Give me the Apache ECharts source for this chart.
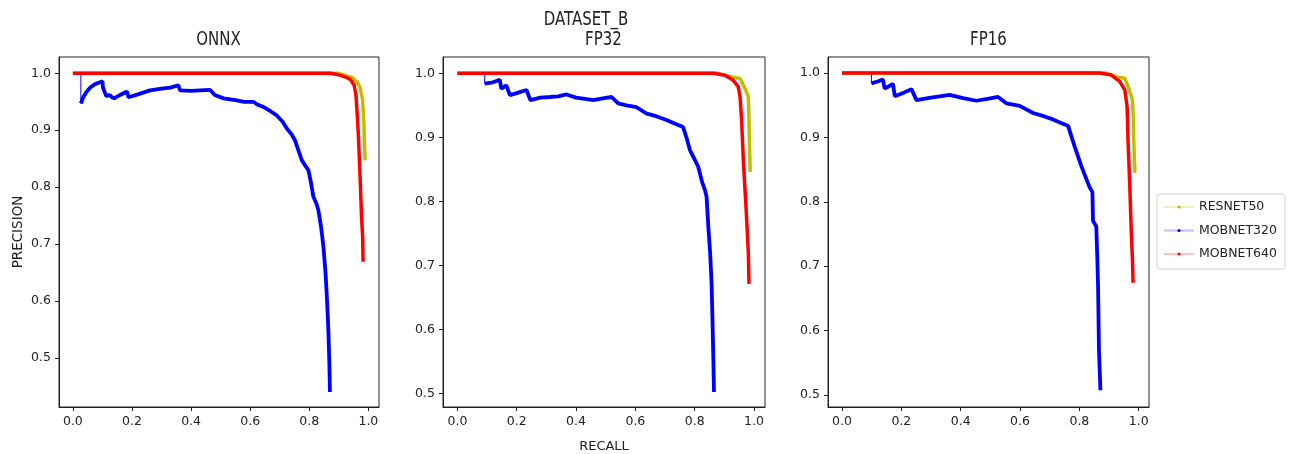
<!DOCTYPE html>
<html>
<head>
<meta charset="utf-8">
<script src="https://cdn.jsdelivr.net/npm/echarts@6/dist/echarts.min.js"></script>
<style>
  html, body { margin: 0; padding: 0; background: #fff; }
  #chart-container { width: 1290px; height: 454px; }
</style>
</head>
<body>
<div id="chart-container"></div>
<script>
// tick labels
const xTicks = [0, 0.2, 0.4, 0.6, 0.8, 1.0];
const yTicks = [0.5, 0.6, 0.7, 0.8, 0.9, 1.0];

// ONNX (recall, precision)
const onnxResnet50 = [[0,1],[0.90,1],[0.944,0.993],[0.962,0.985],[0.972,0.975],[0.980,0.955],[0.984,0.923],[0.986,0.89],[0.989,0.847]];
const onnxMob320Lead = [[0,1],[0.027,1],[0.027,0.947]];
const onnxMob320 = [[0.027,0.947],[0.035,0.958],[0.047,0.968],[0.059,0.975],[0.075,0.981],[0.09,0.984],[0.10,0.986],[0.102,0.975],[0.106,0.972],[0.113,0.960],[0.125,0.962],[0.132,0.958],[0.14,0.956],[0.16,0.962],[0.183,0.968],[0.188,0.958],[0.22,0.963],[0.261,0.970],[0.30,0.973],[0.33,0.975],[0.357,0.979],[0.363,0.970],[0.40,0.969],[0.43,0.970],[0.464,0.971],[0.48,0.962],[0.51,0.956],[0.55,0.953],[0.58,0.950],[0.611,0.950],[0.625,0.945],[0.645,0.941],[0.67,0.933],[0.69,0.926],[0.71,0.915],[0.724,0.903],[0.74,0.893],[0.752,0.882],[0.765,0.862],[0.775,0.847],[0.79,0.835],[0.797,0.830],[0.805,0.81],[0.814,0.783],[0.825,0.770],[0.831,0.759],[0.84,0.73],[0.848,0.695],[0.855,0.65],[0.859,0.613],[0.863,0.57],[0.865,0.543],[0.868,0.49],[0.870,0.44]];
const onnxMob640 = [[0,1],[0.87,1],[0.904,0.997],[0.925,0.993],[0.940,0.989],[0.952,0.979],[0.958,0.962],[0.962,0.93],[0.966,0.894],[0.972,0.818],[0.977,0.747],[0.981,0.71],[0.982,0.669]];

// FP32
const fp32Resnet50 = [[0,1],[0.88,1],[0.919,0.995],[0.953,0.992],[0.97,0.976],[0.981,0.963],[0.983,0.93],[0.984,0.906],[0.987,0.846]];
const fp32Mob320Lead = [[0,1],[0.092,1],[0.092,0.984]];
const fp32Mob320 = [[0.092,0.984],[0.12,0.986],[0.143,0.990],[0.148,0.976],[0.165,0.981],[0.177,0.966],[0.20,0.969],[0.233,0.974],[0.246,0.958],[0.28,0.962],[0.311,0.963],[0.34,0.964],[0.368,0.967],[0.40,0.962],[0.43,0.960],[0.458,0.958],[0.49,0.961],[0.52,0.963],[0.542,0.953],[0.57,0.950],[0.604,0.947],[0.638,0.937],[0.67,0.933],[0.705,0.927],[0.73,0.922],[0.761,0.916],[0.772,0.90],[0.784,0.88],[0.80,0.865],[0.812,0.854],[0.825,0.83],[0.835,0.817],[0.84,0.807],[0.846,0.76],[0.852,0.72],[0.857,0.671],[0.861,0.593],[0.863,0.55],[0.865,0.502]];
const fp32Mob640 = [[0,1],[0.863,1],[0.902,0.997],[0.93,0.989],[0.947,0.979],[0.953,0.963],[0.958,0.927],[0.964,0.864],[0.973,0.791],[0.981,0.718],[0.983,0.671]];

// FP16
const fp16Resnet50 = [[0,1],[0.89,1],[0.925,0.994],[0.953,0.992],[0.967,0.976],[0.979,0.958],[0.982,0.93],[0.983,0.901],[0.987,0.845]];
const fp16Mob320Lead = [[0,1],[0.099,1],[0.099,0.984]];
const fp16Mob320 = [[0.099,0.984],[0.12,0.987],[0.138,0.990],[0.144,0.976],[0.172,0.983],[0.178,0.964],[0.21,0.970],[0.234,0.975],[0.251,0.958],[0.30,0.962],[0.363,0.966],[0.408,0.961],[0.453,0.957],[0.49,0.960],[0.526,0.963],[0.554,0.953],[0.599,0.949],[0.644,0.938],[0.68,0.933],[0.711,0.928],[0.74,0.922],[0.762,0.918],[0.784,0.886],[0.807,0.855],[0.835,0.822],[0.844,0.815],[0.846,0.77],[0.857,0.762],[0.86,0.72],[0.863,0.669],[0.866,0.571],[0.871,0.507]];
const fp16Mob640 = [[0,1],[0.868,1],[0.908,0.997],[0.936,0.987],[0.953,0.974],[0.961,0.948],[0.964,0.896],[0.970,0.824],[0.975,0.752],[0.979,0.71],[0.981,0.674]];

const panelTitles = ['ONNX', 'FP32', 'FP16'];
const seriesNames = ['RESNET50', 'MOBNET320', 'MOBNET640'];
const colors = ['#bfbf00', '#0000ff', '#ff0000'];

const FONT = 'DejaVu Sans';
const chart = echarts.init(document.getElementById('chart-container'));

// grid boxes + axis ranges (matplotlib style margins)
const grids = [
  { left: 59, top: 57, width: 320, height: 350 },
  { left: 443, top: 57, width: 322, height: 350 },
  { left: 828, top: 57, width: 321, height: 350 }
];
const xRanges = [[-0.047, 1.036], [-0.0486, 1.037], [-0.0472, 1.0347]];
const yRanges = [[0.4136, 1.0287], [0.4786, 1.0255], [0.481, 1.025]];

function xAxisFor(i) {
  return {
    type: 'value', gridIndex: i, min: xRanges[i][0], max: xRanges[i][1],
    axisLine: { show: true, onZero: false, lineStyle: { color: '#222', width: 1 } },
    axisTick: { show: true, inside: false, length: 4, lineStyle: { color: '#222' }, customValues: xTicks },
    axisLabel: { customValues: xTicks, margin: 8, color: '#222', fontFamily: FONT, fontSize: 12.5,
      formatter: v => v.toFixed(1) },
    splitLine: { show: false },
    name: i === 1 ? 'RECALL' : '', nameLocation: 'middle', nameGap: 33,
    nameTextStyle: { fontFamily: FONT, fontSize: 13, color: '#222' }
  };
}
function yAxisFor(i) {
  return {
    type: 'value', gridIndex: i, min: yRanges[i][0], max: yRanges[i][1],
    axisLine: { show: true, onZero: false, lineStyle: { color: '#222', width: 1 } },
    axisTick: { show: true, inside: false, length: 4, lineStyle: { color: '#222' }, customValues: yTicks },
    axisLabel: { customValues: yTicks, margin: 8, color: '#222', fontFamily: FONT, fontSize: 12.5,
      formatter: v => v.toFixed(1) },
    splitLine: { show: false },
    name: i === 0 ? 'PRECISION' : '', nameLocation: 'middle', nameGap: 34,
    nameTextStyle: { fontFamily: FONT, fontSize: 13.5, color: '#222' }
  };
}

const panelData = [
  [onnxResnet50, onnxMob320Lead, onnxMob320, onnxMob640],
  [fp32Resnet50, fp32Mob320Lead, fp32Mob320, fp32Mob640],
  [fp16Resnet50, fp16Mob320Lead, fp16Mob320, fp16Mob640]
];

let series = [];
panelData.forEach((d, i) => {
  const base = { type: 'line', xAxisIndex: i, yAxisIndex: i, symbol: 'circle', showSymbol: false, silent: true };
  series.push({ ...base, name: seriesNames[0], data: d[0], color: colors[0], lineStyle: { width: 3.5 } });
  series.push({ ...base, name: 'lead' + i, data: d[1], color: colors[1], lineStyle: { width: 1 } });
  series.push({ ...base, name: seriesNames[1], data: d[2], color: colors[1], lineStyle: { width: 3.8 } });
  series.push({ ...base, name: seriesNames[2], data: d[3], color: colors[2], lineStyle: { width: 3.5 } });
});

const titleText = (text, x, y) => ({
  type: 'text', x: x, y: y, scaleY: 1.25,
  style: { text: text, align: 'center', verticalAlign: 'middle', fill: '#222', font: '15px "DejaVu Sans"' }
});

const option = {
  animation: false,
  grid: grids.map(g => ({ ...g, outerBoundsMode: 'none', containLabel: false, show: true,
    borderColor: '#222', borderWidth: 1, backgroundColor: '#fff' })),
  xAxis: [0, 1, 2].map(xAxisFor),
  yAxis: [0, 1, 2].map(yAxisFor),
  legend: {
    data: seriesNames, orient: 'vertical', left: 1157, top: 194,
    padding: [5, 8, 7, 6], itemGap: 7.5, itemWidth: 30, itemHeight: 4,
    borderColor: '#d0d0d0', borderWidth: 1, borderRadius: 3,
    textStyle: { fontFamily: FONT, fontSize: 12.5, color: '#222', lineHeight: 16 },
    lineStyle: { width: 2, opacity: 0.25 },
    itemStyle: { opacity: 1 }
  },
  graphic: [
    titleText('DATASET_B', 586, 20),
    titleText(panelTitles[0], 218.5, 40.5),
    titleText(panelTitles[1], 603.5, 40.5),
    titleText(panelTitles[2], 988.5, 40.5)
  ],
  series: series
};

chart.setOption(option);
</script>
</body>
</html>
